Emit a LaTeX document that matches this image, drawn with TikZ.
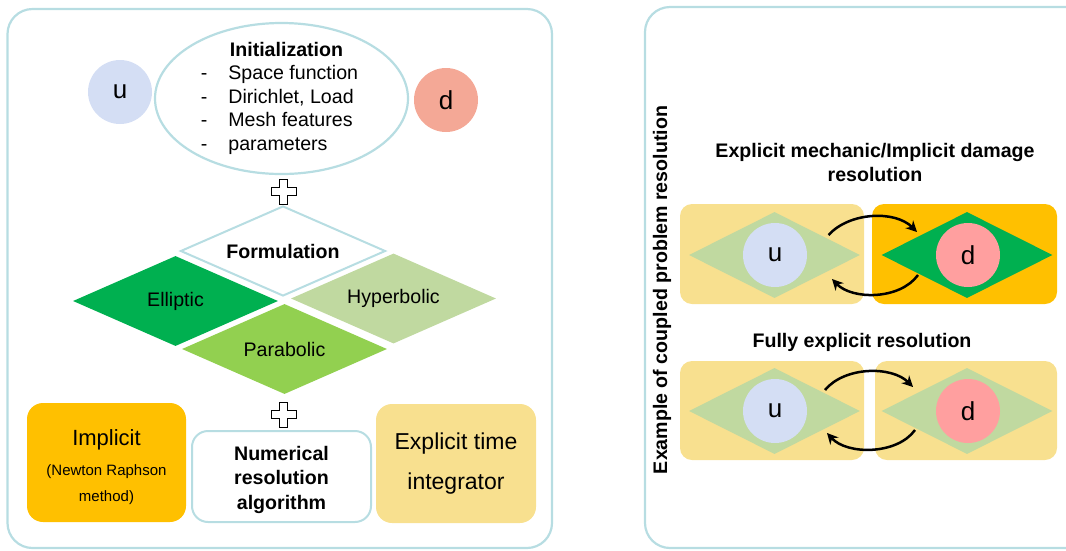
\documentclass[tikz,border=0pt]{standalone}
\usepackage{fontspec}
\setmainfont{Liberation Sans}
\usepackage{tikz}
\usetikzlibrary{arrows.meta,shapes.geometric,positioning}

\definecolor{frameblue}{RGB}{183,221,226}
\definecolor{ublue}{RGB}{212,222,244}
\definecolor{dsalmon}{RGB}{244,168,150}
\definecolor{dpink}{RGB}{255,159,159}
\definecolor{ellgreen}{RGB}{0,176,80}
\definecolor{pargreen}{RGB}{146,208,80}
\definecolor{hypgreen}{RGB}{192,217,160}
\definecolor{implorange}{RGB}{255,192,0}
\definecolor{explyellow}{RGB}{248,224,143}

\newcommand{\txtnorm}{\fontsize{19.6}{23.5}\selectfont}
\newcommand{\txtvar}{\fontsize{26}{30}\selectfont}

\tikzset{pluscross/.pic={
  \draw[fill=white, line width=0.9pt] (-4,-12.5) -- (4,-12.5) -- (4,-4) -- (12.5,-4) -- (12.5,4) -- (4,4)
    -- (4,12.5) -- (-4,12.5) -- (-4,4) -- (-12.5,4) -- (-12.5,-4) -- (-4,-4) -- cycle;
}}

\begin{document}
\begin{tikzpicture}[x=1pt,y=-1pt]
\tikzstyle{every node}=[font=\txtnorm, text=black]
\tikzstyle{panel}=[draw=frameblue, line width=2.2pt, rounded corners=25pt]
\tikzstyle{fieldvar}=[circle, minimum size=64pt, inner sep=0pt, font=\txtvar]
\tikzstyle{rhomb}=[diamond, shape aspect=2.3, inner sep=0pt, minimum width=205pt, minimum height=90pt]
\tikzstyle{smallrhomb}=[diamond, shape aspect=2, inner sep=0pt, minimum width=171pt, minimum height=86pt]
\tikzstyle{algobox}=[rectangle, rounded corners=16pt, inner sep=0pt, minimum width=159pt, minimum height=119pt]
\tikzstyle{solvebox}=[rectangle, rounded corners=12pt, inner sep=0pt, minimum width=184pt, minimum height=100pt]
\tikzstyle{coupling}=[line width=2.5pt, -{Stealth[length=11pt,width=11pt]}]

\useasboundingbox (0,0) rectangle (1066,550);

% left panel: general scheme
\draw[panel] (7.5,9) rectangle (552,548);
\node[fieldvar, fill=ublue] (u) at (120,92) {u};
\node[fieldvar, fill=dsalmon] (d) at (446,100) {d};
\node[ellipse, draw=frameblue, line width=2.2pt, fill=white, inner sep=0pt,
      minimum width=253pt, minimum height=151pt] (init) at (281.5,98.5) {};
\node[inner sep=0pt] (inittext) at ([xshift=-2pt]init.center) {\begin{tabular}{@{}l@{\hspace{21pt}}l@{}}
  \multicolumn{2}{@{}c@{}}{\hspace{14pt}\bfseries Initialization}\\
  - & Space function\\
  - & Dirichlet, Load\\
  - & Mesh features\\
  - & parameters
\end{tabular}};

\pic at (283.5,191.5) {pluscross};

\node[rhomb, draw=frameblue, line width=2pt, fill=white, font=\txtnorm\bfseries] (form) at (283,251) {Formulation};
\node[rhomb, fill=ellgreen] (ell) at (175.5,301) {Elliptic};
\node[rhomb, fill=hypgreen] (hyp) at (393.5,298.5) {Hyperbolic};
\node[rhomb, fill=pargreen] (par) at (284.5,349) {Parabolic};

\pic at (283.5,414.5) {pluscross};

\node[algobox, fill=implorange] (impl) at (106.5,462.5) {};
\node[align=center, font=\fontsize{15}{26}\selectfont] (impltext) at ([yshift=-5pt]impl.center)
  {{\fontsize{22}{26}\selectfont Implicit}\\[4pt](Newton Raphson\\method)};
\node[algobox, draw=frameblue, line width=2pt, fill=white, minimum width=179pt, minimum height=91pt] (algo) at (281.5,476.5) {};
\node[align=center, font=\fontsize{19.6}{24.5}\selectfont\bfseries] (algotext) at ([yshift=-3pt]algo.center)
  {Numerical\\resolution\\algorithm};
\node[algobox, fill=explyellow, minimum width=160pt, align=center,
      font=\fontsize{23}{40}\selectfont] (expl) at (456,463.5) {Explicit time\\integrator};

% right panel: coupled examples
\draw[panel] (645,7) rectangle (1090,548);
\node[rotate=90, font=\txtnorm\bfseries] (example) at (662,290) {Example of coupled problem resolution};

\node[align=center, font=\fontsize{19.6}{24}\selectfont\bfseries] (title1) at (875,162)
  {Explicit mechanic/Implicit damage\\resolution};
\node[solvebox, fill=explyellow] (ub1) at (772,254) {};
\node[solvebox, fill=implorange, minimum width=185pt] (db1) at (964.5,254) {};
\node[smallrhomb, fill=hypgreen] (ud1) at (774.5,255) {};
\node[smallrhomb, fill=ellgreen] (dd1) at (967,255) {};
\node[fieldvar, fill=ublue] (uc1) at (775,255) {u};
\node[fieldvar, fill=dpink] (dc1) at (968,255) {d};
\draw[coupling] ([shift={(54,-20)}]ud1.center) .. controls +(21,-23) and +(-22,-22) .. ([shift={(-50,-23)}]dd1.center);
\draw[coupling] ([shift={(-49,20)}]dd1.center) .. controls +(-18,25) and +(20,21) .. ([shift={(57.5,24)}]ud1.center);

\node[font=\txtnorm\bfseries] (title2) at (862,342) {Fully explicit resolution};
\node[solvebox, fill=explyellow, minimum height=99pt] (ub2) at (772,410.5) {};
\node[solvebox, fill=explyellow, minimum width=182pt, minimum height=99pt] (db2) at (966,410.5) {};
\node[smallrhomb, fill=hypgreen] (ud2) at (774.5,411) {};
\node[smallrhomb, fill=hypgreen] (dd2) at (967,411) {};
\node[fieldvar, fill=ublue] (uc2) at (775,411) {u};
\node[fieldvar, fill=dpink] (dc2) at (968,411) {d};
\draw[coupling] ([shift={(50.5,-21)}]ud2.center) .. controls +(20,-24) and +(-21,-21) .. ([shift={(-54,-24)}]dd2.center);
\draw[coupling] ([shift={(-52,19)}]dd2.center) .. controls +(-18,25) and +(20,22) .. ([shift={(52.5,22)}]ud2.center);
\end{tikzpicture}
\end{document}
